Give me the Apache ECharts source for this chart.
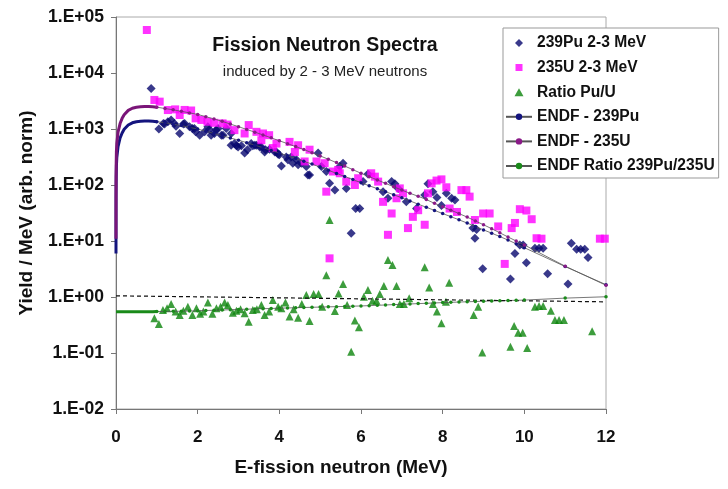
<!DOCTYPE html>
<html>
<head>
<meta charset="utf-8">
<script src="https://cdn.jsdelivr.net/npm/echarts@6/dist/echarts.min.js"></script>
<style>
  html, body { margin: 0; padding: 0; background: #fff; }
  #chart { width: 728px; height: 489px; }
</style>
</head>
<body>
<div id="chart"></div>
<script>
  // measured points, 2-3 MeV incident neutrons
  const puE = [0.86, 1.05, 1.16, 1.19, 1.27, 1.35, 1.43, 1.47, 1.56, 1.65, 1.68, 1.80, 1.87, 1.92, 1.95,
    2.05, 2.17, 2.25, 2.29, 2.33, 2.41, 2.45, 2.50, 2.58, 2.62, 2.70, 2.82, 2.82, 2.90, 2.95, 2.99,
    3.07, 3.15, 3.22, 3.31, 3.35, 3.40, 3.44, 3.52, 3.56, 3.64, 3.66, 3.76, 3.89, 3.93, 3.97,
    4.00, 4.05, 4.17, 4.21, 4.29, 4.33, 4.42, 4.46, 4.54, 4.66, 4.70, 4.74, 4.95,
    5.03, 5.15, 5.23, 5.36, 5.48, 5.56, 5.64, 5.76, 5.87, 5.97,
    6.05, 6.17, 6.54, 6.66, 6.75, 6.83, 6.91, 7.11, 7.36, 7.56, 7.64, 7.76, 7.86, 7.97,
    8.09, 8.22, 8.30, 8.74, 8.79, 8.83, 8.98, 9.66, 9.77, 9.89, 9.97,
    10.05, 10.26, 10.36, 10.46, 10.57, 11.07, 11.15, 11.28, 11.38, 11.48, 11.56];
  const puYield = [5300, 1000, 1260, 1230, 1350, 1450, 1260, 1120, 830, 1230, 1260, 1100, 1020, 1020, 890,
    776, 890, 1100, 980, 776, 830, 955, 1020, 776, 776, 1020, 513, 830, 550, 500, 479,
    500, 372, 427, 550, 500, 513, 513, 479, 479, 389, 427, 437, 389, 389, 355,
    347, 219, 316, 282, 316, 245, 282, 229, 245, 214, 151, 151, 372,
    214, 174, 107, 81, 214, 245, 87, 13.8, 38, 38,
    115, 158, 76, 58, 115, 105, 87, 50, 38, 66, 105, 76, 60, 43,
    71, 58, 54, 17, 11.2, 16, 3.2, 2.1, 6.0, 8.5, 8.5,
    4.1, 7.4, 7.4, 7.4, 2.6, 1.7, 9.1, 7.1, 7.1, 7.1, 5.1];

  const uE = [0.755, 0.94, 1.07, 1.27, 1.45, 1.56, 1.68, 1.84, 1.95, 2.09, 2.24, 2.41, 2.61, 2.73, 2.90,
    3.15, 3.25, 3.44, 3.56, 3.60, 3.75, 3.84, 3.93, 4.25, 4.38, 4.46, 4.62, 4.74, 4.91,
    5.11, 5.15, 5.23, 5.31, 5.44, 5.48, 5.64, 5.85, 5.93, 6.25, 6.34, 6.42, 6.54, 6.66, 6.75, 6.87, 6.95,
    7.03, 7.15, 7.27, 7.40, 7.56, 7.64, 7.73, 7.85, 7.97, 8.09, 8.17, 8.35, 8.46, 8.58, 8.66, 8.79, 8.99,
    9.15, 9.36, 9.52, 9.69, 9.77, 9.89, 10.05, 10.18, 10.30, 10.42, 11.85, 11.97];
  const uYield = [58600, 3300, 3080, 2180, 2240, 1780, 2190, 2140, 1550, 1450, 1350, 1290, 1260, 1200, 955,
    832, 1175, 890, 631, 832, 776, 457, 550, 589, 389, 513, 263, 427, 263,
    245, 76, 4.9, 174, 186, 162, 115, 100, 132, 162, 141, 115, 50, 12.9, 31, 58, 87,
    71, 17, 27, 35.5, 19.5, 71, 107, 120, 126, 91, 38, 33, 81, 81, 62, 23.7, 31,
    31, 18.2, 3.9, 17, 21, 37, 35, 24.5, 11.2, 11, 11, 11];

  const ratioE = [0.94, 1.05, 1.15, 1.25, 1.35, 1.46, 1.56, 1.65, 1.76, 1.87, 1.97, 2.06, 2.14, 2.25, 2.36,
    2.46, 2.56, 2.66, 2.74, 2.86, 2.95, 3.05, 3.15, 3.25, 3.35, 3.45, 3.56, 3.64, 3.75, 3.84, 3.97,
    4.05, 4.15, 4.25, 4.35, 4.46, 4.55, 4.66, 4.74, 4.84, 4.96, 5.05, 5.15, 5.23, 5.36, 5.45, 5.56,
    5.66, 5.76, 5.85, 5.95, 6.07, 6.17, 6.28, 6.38, 6.46, 6.56, 6.66, 6.77, 6.87, 6.95, 7.05, 7.18,
    7.56, 7.67, 7.76, 7.86, 7.97, 8.08, 8.16, 8.76, 8.87, 8.97, 9.66, 9.75, 9.85, 9.96, 10.07,
    10.26, 10.36, 10.46, 10.65, 10.75, 10.85, 10.97, 11.66];
  const ratioVal = [0.417, 0.331, 0.586, 0.631, 0.75, 0.55, 0.479, 0.569, 0.671, 0.479, 0.631, 0.501, 0.55, 0.794, 0.501,
    0.631, 0.671, 0.794, 0.72, 0.525, 0.569, 0.603, 0.513, 0.363, 0.586, 0.603, 0.72, 0.479, 0.55, 0.883, 0.671,
    0.631, 0.794, 0.447, 0.603, 0.427, 0.75, 1.09, 0.372, 1.13, 1.13, 0.671, 2.45, 23.7, 0.562, 1.16, 1.70,
    0.72, 0.105, 0.38, 0.288, 1.01, 1.33, 0.859, 0.859, 1.13, 1.57, 4.57, 3.72, 1.57, 0.75, 0.75, 0.946,
    3.39, 1.48, 0.75, 0.55, 0.339, 0.826, 1.80, 0.479, 0.671, 0.102, 0.129, 0.302, 0.229, 0.229, 0.123,
    0.671, 0.692, 0.692, 0.569, 0.389, 0.389, 0.389, 0.245];

  // ENDF evaluations
  const endfLowE = [0.00001, 0.0001, 0.001, 0.005, 0.01, 0.02, 0.05, 0.1, 0.15, 0.2, 0.3, 0.4, 0.5, 0.6, 0.7, 0.8, 0.9];
  const endfLowPu = [6, 19, 60, 140, 220, 310, 485, 690, 850, 990, 1180, 1290, 1350, 1375, 1385, 1385, 1370];
  const endfLowU = [11, 35, 110, 250, 400, 560, 880, 1250, 1550, 1800, 2150, 2350, 2450, 2500, 2520, 2510, 2490];
  const endfLowRatio = [0.547, 0.547, 0.547, 0.547, 0.547, 0.547, 0.547, 0.547, 0.547, 0.547, 0.547, 0.547, 0.547, 0.547, 0.547, 0.547, 0.548];

  const endfE = [1.0, 1.2, 1.4, 1.6, 1.8, 2.0, 2.2, 2.4, 2.6, 2.8, 3.0, 3.2, 3.4, 3.6, 3.8, 4.0, 4.2, 4.4, 4.6, 4.8,
    5.0, 5.2, 5.4, 5.6, 5.8, 6.0, 6.2, 6.4, 6.6, 6.8, 7.0, 7.2, 7.4, 7.6, 7.8, 8.0, 8.2, 8.4, 8.6, 8.8,
    9.0, 9.2, 9.4, 9.6, 9.8, 10.0, 11, 12];
  const endfPu = [1350, 1290, 1215, 1150, 1070, 1000, 912, 832, 759, 692, 631, 570, 515, 463, 415, 372, 333, 298, 265, 236,
    209, 184, 161, 142, 125, 110, 97, 86, 76, 67, 59, 52, 45.5, 40, 35.2, 30.9, 27.2, 23.9, 20.9, 18.2,
    15.8, 13.8, 12.0, 10.4, 8.9, 7.6, 3.5, 1.66];
  const endfU = [2455, 2320, 2200, 2070, 1940, 1820, 1660, 1510, 1370, 1225, 1100, 982, 879, 783, 695, 617, 547, 485, 429, 377,
    331, 288, 251, 218, 188, 162, 141, 123, 107, 93, 81, 71, 63, 55, 47, 40.7, 35.5, 30.9, 26.7, 22.8,
    19.5, 16.6, 14.0, 11.8, 10.0, 8.5, 3.55, 1.62];
  const endfRatio = [0.550, 0.552, 0.554, 0.557, 0.560, 0.569, 0.574, 0.580, 0.586, 0.593, 0.600, 0.606, 0.612, 0.618, 0.624,
    0.631, 0.637, 0.643, 0.649, 0.655, 0.661, 0.667, 0.673, 0.679, 0.686, 0.692, 0.701, 0.711, 0.721, 0.731,
    0.741, 0.751, 0.762, 0.772, 0.783, 0.794, 0.803, 0.813, 0.822, 0.831, 0.841, 0.849, 0.857, 0.865, 0.873,
    0.881, 0.955, 1.01];

  // dashed reference line
  const trendE = [0, 12];
  const trendVal = [1.05, 0.82];

  const legendNames = ['239Pu 2-3 MeV', '235U 2-3 MeV', 'Ratio Pu/U', 'ENDF - 239Pu', 'ENDF - 235U', 'ENDF Ratio 239Pu/235U'];

  const FONT = '"Liberation Sans", Arial, sans-serif';

  // legend icons: small marker centred in a 26x8 box (corner specks keep the box from being stretched)
  const BOX = 'M0,0h0.01v0.01h-0.01Z M26,8h-0.01v-0.01h0.01Z ';
  const legendIcons = {
    '239Pu 2-3 MeV': 'path://' + BOX + 'M13,0L17,4L13,8L9,4Z',
    '235U 2-3 MeV': 'path://' + BOX + 'M9.5,0.5H16.5V7.5H9.5Z',
    'Ratio Pu/U': 'path://' + BOX + 'M13,0L17.5,8H8.5Z'
  };

  function pairs(xs, ys) {
    return xs.map((x, i) => [x, ys[i]]);
  }
  // low energy part joins the first marker point
  function lowPart(ys, next) {
    return pairs(endfLowE, ys).concat([[endfE[0], next[0]]]);
  }
  function expLabel(v) {
    const e = Math.round(Math.log10(v));
    return '1.E' + (e < 0 ? '-' : '+') + String(Math.abs(e)).padStart(2, '0');
  }

  const chart = echarts.init(document.getElementById('chart'), null, {renderer: 'canvas'});

  chart.setOption({
    animation: false,
    textStyle: {fontFamily: FONT},
    title: {
      text: 'Fission Neutron Spectra',
      subtext: 'induced by 2 - 3 MeV neutrons',
      left: 320,
      top: 31,
      textAlign: 'center',
      itemGap: 8,
      textStyle: {fontFamily: FONT, fontSize: 19.5, fontWeight: 'bold', color: '#111'},
      subtextStyle: {fontFamily: FONT, fontSize: 15, color: '#222'}
    },
    legend: {
      data: legendNames.map(n => legendIcons[n] ? {name: n, icon: legendIcons[n]} : n),
      orient: 'vertical',
      left: 503,
      top: 28,
      padding: [7, 4, 4, 2],
      itemGap: 8.6,
      itemWidth: 26,
      itemHeight: 8,
      selectedMode: false,
      backgroundColor: '#fff',
      borderColor: '#999',
      borderWidth: 1,
      textStyle: {fontFamily: FONT, fontSize: 15.6, fontWeight: 'bold', color: '#111'}
    },
    grid: {
      left: 116,
      top: 17,
      width: 490,
      height: 392,
      show: true,
      borderColor: '#aaa',
      borderWidth: 1
    },
    xAxis: {
      type: 'value',
      min: 0,
      max: 12,
      interval: 2,
      name: 'E-fission neutron (MeV)',
      nameLocation: 'middle',
      nameGap: 49,
      nameTextStyle: {fontFamily: FONT, fontSize: 19, fontWeight: 'bold', color: '#111', padding: [0, 40, 0, 0]},
      axisLine: {lineStyle: {color: '#777'}},
      axisTick: {length: 5, lineStyle: {color: '#777'}},
      axisLabel: {margin: 20, fontFamily: FONT, fontSize: 17, fontWeight: 'bold', color: '#111'},
      splitLine: {show: false}
    },
    yAxis: {
      type: 'log',
      logBase: 10,
      min: 0.01,
      max: 100000,
      splitNumber: 7,
      name: 'Yield / MeV (arb. norm)',
      nameLocation: 'middle',
      nameGap: 80,
      nameTextStyle: {fontFamily: FONT, fontSize: 19, fontWeight: 'bold', color: '#111'},
      axisLine: {show: true, lineStyle: {color: '#777'}},
      axisTick: {show: true, length: 5, lineStyle: {color: '#777'}},
      minorTick: {show: false},
      axisLabel: {margin: 12, fontFamily: FONT, fontSize: 17.5, fontWeight: 'bold', color: '#111', formatter: expLabel},
      splitLine: {show: false}
    },
    series: [
      {
        name: '239Pu 2-3 MeV', type: 'scatter', symbol: 'diamond', symbolSize: 9,
        itemStyle: {color: '#08086e'}, data: pairs(puE, puYield), silent: true
      },
      {
        name: '235U 2-3 MeV', type: 'scatter', symbol: 'rect', symbolSize: 8,
        itemStyle: {color: '#ff00ff'}, data: pairs(uE, uYield), silent: true
      },
      {
        name: 'Ratio Pu/U', type: 'scatter', symbol: 'triangle', symbolSize: 8,
        itemStyle: {color: '#0c840c'}, data: pairs(ratioE, ratioVal), silent: true
      },
      {
        name: 'ENDF Pu low', type: 'line', showSymbol: false, silent: true,
        lineStyle: {color: '#14147e', width: 3}, data: lowPart(endfLowPu, endfPu)
      },
      {
        name: 'ENDF U low', type: 'line', showSymbol: false, silent: true,
        lineStyle: {color: '#7a1578', width: 3}, data: lowPart(endfLowU, endfU)
      },
      {
        name: 'ENDF ratio low', type: 'line', showSymbol: false, silent: true,
        lineStyle: {color: '#1a8a1a', width: 3}, data: lowPart(endfLowRatio, endfRatio)
      },
      {
        name: 'ENDF - 239Pu', type: 'line', symbol: 'circle', symbolSize: 3.5, silent: true,
        itemStyle: {color: '#14147e'}, lineStyle: {color: '#555', width: 0.8},
        data: pairs(endfE, endfPu)
      },
      {
        name: 'ENDF - 235U', type: 'line', symbol: 'circle', symbolSize: 3.5, silent: true,
        itemStyle: {color: '#8a1a88'}, lineStyle: {color: '#555', width: 0.8},
        data: pairs(endfE, endfU)
      },
      {
        name: 'ENDF Ratio 239Pu/235U', type: 'line', symbol: 'circle', symbolSize: 3.5, silent: true,
        itemStyle: {color: '#1a8a1a'}, lineStyle: {color: '#555', width: 0.8},
        data: pairs(endfE, endfRatio)
      },
      {
        name: 'trend', type: 'line', showSymbol: false, silent: true,
        lineStyle: {color: '#111', width: 1.2, type: [4, 3]},
        data: pairs(trendE, trendVal)
      }
    ]
  });

  window.addEventListener('resize', () => chart.resize());
</script>
</body>
</html>
